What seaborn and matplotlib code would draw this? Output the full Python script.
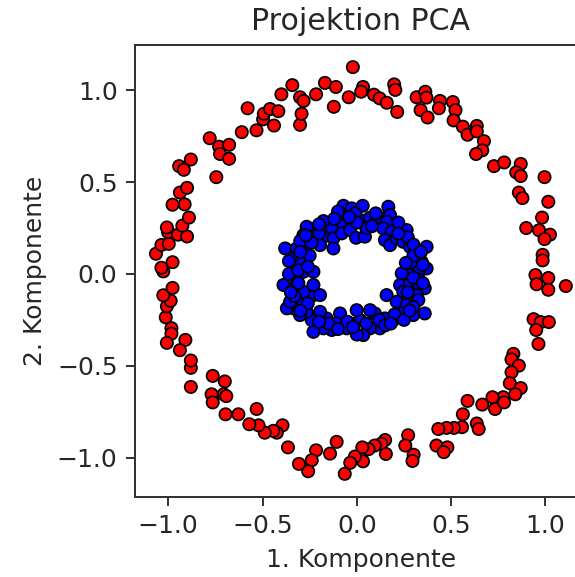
import matplotlib
matplotlib.use("Agg")
import matplotlib.pyplot as plt
import seaborn as sns
import pandas as pd

# Outer ring (class 0, red)
red_x = [-0.021, -0.342, -0.169, -0.111, 0.033, 0.198, 0.204, -0.400, -0.301, -0.282,
         -0.216, -0.043, 0.023, 0.091, 0.121, 0.159, 0.214, -0.122, 0.317, 0.363,
         0.369, 0.338, 0.375, 0.441, 0.435, 0.509, 0.523, 0.513, 0.562, 0.587,
         0.636, 0.636, 0.674, 0.665, 0.632, 0.727, 0.781, 0.869, 0.845, 0.869,
         0.995, 0.859, 0.878, 1.015, 0.982, 0.898, 0.966, 1.024, 0.995, 0.985,
         0.985, 0.947, 0.953, 1.015, 1.015, 1.108, 0.937, 0.975, 1.018, 0.951,
         0.963, 0.830, 0.820, 0.859, 0.820, 0.811, 0.869, 0.840, 0.776, 0.719,
         0.665, 0.733, 0.781, 0.587, 0.562, 0.636, 0.646, 0.558, 0.515, 0.476,
         0.432, 0.422, 0.480, 0.461, 0.272, 0.257, 0.301, 0.295, 0.150, 0.130,
         0.154, 0.095, 0.062, 0.029, 0.033, -0.010, -0.035, -0.064, -0.107, -0.142,
         -0.216, -0.239, -0.258, -0.307, -0.365, -0.394, -0.424, -0.443, -0.488, -0.521,
         -0.531, -0.570, -0.628, -0.696, -0.706, -0.692, -0.700, -0.764, -0.770, -0.764,
         -0.880, -0.880, -0.880, -0.909, -0.938, -0.983, -0.983, -1.007, -1.013, -1.007,
         -0.987, -1.026, -0.977, -0.977, -1.026, -1.036, -1.065, -1.036, -0.997, -1.001,
         -1.007, -0.948, -0.900, -0.925, -0.890, -0.913, -0.977, -0.938, -0.900, -0.942,
         -0.917, -0.880, -0.745, -0.780, -0.730, -0.725, -0.677, -0.677, -0.610, -0.532,
         -0.497, -0.493, -0.460, -0.439, -0.416, -0.579, -0.301, -0.293]
red_y = [1.126, 1.028, 1.040, 1.018, 1.018, 1.032, 1.002, 0.978, 0.962, 0.942,
         0.978, 0.962, 0.992, 0.976, 0.956, 0.932, 0.882, 0.910, 0.962, 0.992,
         0.960, 0.892, 0.852, 0.942, 0.902, 0.936, 0.892, 0.836, 0.802, 0.758,
         0.806, 0.776, 0.723, 0.673, 0.653, 0.587, 0.607, 0.599, 0.553, 0.533,
         0.527, 0.443, 0.413, 0.393, 0.307, 0.250, 0.238, 0.214, 0.190, 0.104,
         0.074, -0.006, -0.056, -0.022, -0.086, -0.066, -0.246, -0.262, -0.262, -0.305,
         -0.381, -0.435, -0.465, -0.499, -0.535, -0.595, -0.621, -0.655, -0.671, -0.671,
         -0.711, -0.735, -0.699, -0.691, -0.764, -0.814, -0.844, -0.834, -0.838, -0.838,
         -0.844, -0.934, -0.944, -0.970, -0.878, -0.934, -0.984, -1.018, -0.904, -0.924,
         -0.980, -0.934, -0.954, -0.944, -1.020, -0.994, -1.028, -1.088, -0.914, -0.978,
         -0.960, -1.014, -1.074, -1.034, -0.944, -0.824, -0.864, -0.854, -0.864, -0.824,
         -0.735, -0.818, -0.764, -0.764, -0.655, -0.665, -0.585, -0.555, -0.655, -0.699,
         -0.615, -0.511, -0.471, -0.359, -0.415, -0.295, -0.325, -0.375, -0.236, -0.176,
         -0.146, -0.116, -0.076, 0.064, 0.014, 0.034, 0.110, 0.158, 0.164, 0.228,
         0.253, 0.214, 0.204, 0.263, 0.307, 0.379, 0.377, 0.443, 0.469, 0.587,
         0.567, 0.623, 0.527, 0.739, 0.693, 0.653, 0.627, 0.703, 0.772, 0.782,
         0.842, 0.872, 0.898, 0.808, 0.886, 0.902, 0.812, 0.872]

# Inner ring (class 1, blue)
blue_x = [-0.071, -0.027, 0.031, 0.021, -0.010, -0.054, -0.089, -0.133, -0.177, -0.222,
          -0.266, -0.283, -0.230, -0.177, -0.124, -0.080, -0.036, -0.004, 0.043, 0.070,
          0.105, 0.132, 0.167, 0.176, 0.158, 0.140, 0.185, 0.149, 0.176, 0.211,
          0.264, 0.246, 0.282, 0.317, 0.370, 0.344, 0.299, 0.370, 0.326, 0.282,
          0.238, 0.229, 0.282, 0.326, 0.360, 0.317, 0.246, 0.158, 0.211, 0.264,
          0.326, 0.360, 0.299, 0.238, 0.193, 0.149, 0.096, 0.070, 0.122, 0.070,
          0.034, 0.017, -0.001, -0.036, -0.054, -0.089, -0.107, -0.133, -0.160, -0.195,
          -0.177, -0.230, -0.239, -0.266, -0.301, -0.336, -0.371, -0.354, -0.283, -0.230,
          -0.195, -0.230, -0.283, -0.345, -0.389, -0.319, -0.283, -0.230, -0.327, -0.292,
          -0.336, -0.380, -0.319, -0.275, -0.195, -0.124,
          -0.300, -0.250, 0.050, 0.100, 0.270, 0.330, 0.300, 0.200, -0.050, -0.150,
          -0.330, -0.360, -0.310, 0.000, 0.120, 0.250, 0.350, -0.200, 0.220, -0.100,
          -0.120, 0.000, 0.080, -0.200, 0.220, -0.040,
          0.300, 0.340, 0.260, 0.300, 0.350, 0.270, 0.300,
          0.150, 0.050, -0.020, -0.100, -0.200, 0.180, 0.280,
          -0.260, -0.310, -0.260, -0.360, -0.300, -0.240, -0.350, -0.300, -0.270]
blue_y = [0.371, 0.357, 0.371, 0.293, 0.330, 0.303, 0.266, 0.248, 0.288, 0.248,
          0.257, 0.212, 0.203, 0.203, 0.194, 0.221, 0.239, 0.197, 0.203, 0.306,
          0.293, 0.303, 0.366, 0.321, 0.284, 0.248, 0.230, 0.185, 0.157, 0.194,
          0.239, 0.175, 0.148, 0.103, 0.148, 0.066, 0.048, 0.030, 0.012, -0.006,
          0.003, -0.060, -0.051, -0.051, -0.078, -0.115, -0.097, -0.115, -0.151, -0.169,
          -0.142, -0.215, -0.224, -0.215, -0.251, -0.242, -0.215, -0.197, -0.296, -0.296,
          -0.333, -0.251, -0.197, -0.269, -0.296, -0.215, -0.269, -0.305, -0.242, -0.206,
          -0.296, -0.315, -0.251, -0.206, -0.224, -0.187, -0.187, -0.151, -0.160, -0.115,
          -0.115, -0.060, -0.097, -0.097, -0.060, -0.042, 0.012, 0.012, 0.048, 0.066,
          0.103, 0.139, 0.139, 0.157, 0.157, 0.139,
          0.180, 0.100, 0.250, 0.330, 0.200, -0.030, 0.100, -0.220, -0.260, -0.270,
          -0.120, 0.000, 0.020, -0.330, -0.250, -0.250, 0.050, 0.220, 0.280, 0.340,
          0.300, 0.280, 0.260, 0.270, 0.220, 0.310,
          0.160, 0.120, 0.060, -0.020, -0.050, -0.100, -0.180,
          -0.280, -0.270, -0.290, -0.300, -0.260, -0.270, -0.200,
          -0.160, -0.050, 0.040, 0.070, 0.120, 0.170, -0.100, -0.200, 0.210]

classes = ["outer", "inner"]
colors = ["red", "blue"]

df = pd.DataFrame({
    "x": red_x + blue_x,
    "y": red_y + blue_y,
    "cls": [classes[0]] * len(red_x) + [classes[1]] * len(blue_x),
})

sns.set_style("white")
plt.rcParams["font.family"] = ["DejaVu Sans"]
plt.rcParams["xtick.bottom"] = True
plt.rcParams["ytick.left"] = True

DPI = 180
fig = plt.figure(figsize=(575 / DPI, 577 / DPI), dpi=DPI)
ax = fig.add_axes([0.2348, 0.1387, 0.785, 0.7838])

sns.scatterplot(data=df, x="x", y="y", hue="cls", palette=dict(zip(classes, colors)),
                edgecolor="black", linewidth=0.7, s=24, alpha=1.0, legend=False, ax=ax)

ax.set_xlim(-1.176, 1.217)
ax.set_ylim(-1.214, 1.248)
ax.set_xticks([-1.0, -0.5, 0.0, 0.5, 1.0])
ax.set_yticks([-1.0, -0.5, 0.0, 0.5, 1.0])
ax.tick_params(axis="both", labelsize=10, length=3.5, width=0.8, direction="out",
               colors="#333333", labelcolor="#262626")
for sp in ax.spines.values():
    sp.set_color("#333333")
    sp.set_linewidth(0.8)
ax.set_xlabel("1. Komponente", fontsize=10, color="#262626")
ax.set_ylabel("2. Komponente", fontsize=10, color="#262626")
ax.set_title("Projektion PCA", fontsize=12, color="#262626")

fig.savefig("out.png", dpi=DPI)
